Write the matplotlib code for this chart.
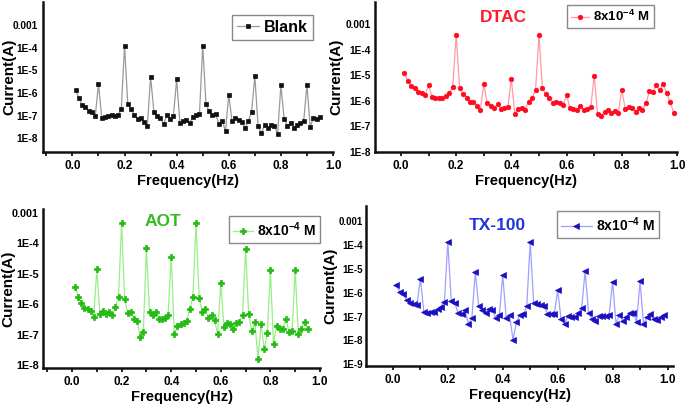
import numpy as np
import matplotlib
matplotlib.use("Agg")
import matplotlib.pyplot as plt
import matplotlib.transforms as mtransforms
from matplotlib.ticker import FixedLocator, MultipleLocator

plt.rcParams['font.family'] = ['Liberation Sans', 'DejaVu Sans']
plt.rcParams['font.weight'] = 'bold'
plt.rcParams['mathtext.fontset'] = 'custom'
plt.rcParams['mathtext.rm'] = 'Liberation Sans:bold'
plt.rcParams['mathtext.bf'] = 'Liberation Sans:bold'
plt.rcParams['mathtext.it'] = 'Liberation Sans:bold'

# frequency step of the spectra (Hz)
STEP = 0.0125

# log10(current / A)
blank_log = [-5.88, -6.24, -6.54, -6.61, -6.78, -6.82, -7.01, -5.60, -7.09, -7.06,
             -7.00, -6.97, -7.03, -6.98, -6.70, -3.91, -6.51, -6.73, -6.97, -7.14,
             -7.09, -7.28, -7.45, -5.29, -6.82, -7.03, -7.11, -7.37, -6.98, -7.17,
             -7.01, -5.40, -7.31, -7.25, -7.20, -7.32, -7.06, -6.98, -6.94, -3.91,
             -6.51, -6.81, -6.98, -6.94, -7.38, -7.22, -7.70, -6.07, -7.26, -7.09,
             -7.20, -7.29, -7.56, -7.23, -6.83, -5.26, -7.47, -7.79, -7.41, -7.54,
             -7.42, -7.45, -7.81, -5.67, -7.14, -7.44, -7.32, -7.53, -7.40, -7.32,
             -7.25, -5.64, -7.50, -7.09, -7.13, -7.07]

dtac_log = [-4.91, -5.24, -5.43, -5.49, -5.64, -5.68, -5.78, -5.40, -5.84, -5.90,
            -5.89, -5.89, -5.82, -5.68, -5.47, -3.42, -5.49, -5.73, -5.89, -6.06,
            -6.06, -6.21, -6.36, -5.34, -6.10, -6.21, -6.28, -6.14, -6.32, -6.28,
            -6.23, -5.15, -6.50, -6.32, -6.28, -6.34, -6.03, -5.89, -5.57, -3.44,
            -5.51, -5.74, -5.90, -6.07, -6.05, -6.10, -6.15, -5.77, -6.30, -6.31,
            -6.35, -6.19, -6.36, -6.32, -6.26, -5.02, -6.52, -6.61, -6.43, -6.36,
            -6.46, -6.39, -6.46, -5.57, -6.32, -6.26, -6.30, -6.42, -6.30, -6.34,
            -6.10, -5.63, -5.66, -5.40, -5.57, -5.34, -5.70, -6.03, -6.46]

aot_log = [-5.43, -5.75, -5.96, -6.11, -6.16, -6.22, -6.41, -4.86, -6.33, -6.21,
           -6.31, -6.25, -6.36, -6.08, -5.75, -3.33, -5.82, -6.30, -6.27, -6.47,
           -6.55, -7.06, -6.91, -4.17, -6.25, -6.34, -6.25, -6.49, -6.49, -6.44,
           -6.36, -4.44, -6.97, -6.73, -6.65, -6.60, -6.54, -6.17, -5.75, -3.33,
           -5.78, -6.25, -6.17, -6.44, -6.36, -6.53, -6.98, -5.29, -6.74, -6.60,
           -6.66, -6.82, -6.60, -6.58, -6.36, -4.18, -6.33, -6.89, -6.58, -7.78,
           -6.66, -7.48, -6.95, -4.89, -7.29, -6.71, -6.80, -6.80, -6.47, -6.91,
           -6.88, -4.89, -6.98, -6.82, -6.58, -6.82]

tx_log = [-5.66, -5.97, -6.04, -6.32, -6.44, -6.46, -6.53, -5.41, -6.79, -6.86,
          -6.81, -6.79, -6.70, -6.58, -6.38, -3.88, -6.35, -6.42, -6.84, -6.91,
          -6.74, -7.30, -7.07, -5.13, -6.56, -6.72, -6.84, -6.67, -6.72, -7.07,
          -6.95, -5.27, -7.06, -6.95, -7.98, -7.21, -6.93, -6.91, -6.56, -3.88,
          -6.42, -6.49, -6.53, -6.57, -6.88, -6.91, -6.91, -5.90, -7.11, -7.32,
          -6.97, -7.00, -7.02, -6.86, -6.63, -5.09, -6.84, -7.09, -7.18, -6.97,
          -6.97, -6.97, -6.93, -5.54, -7.30, -6.93, -7.18, -7.00, -6.84, -6.84,
          -7.23, -5.51, -7.30, -7.03, -6.91, -7.10, -7.15, -7.02, -6.92]

labels = ["Blank", "8x10$^{-4}$ M", "8x10$^{-4}$ M", "8x10$^{-4}$ M"]
titles = ["", "DTAC", "AOT", "TX-100"]
xticks = [0.0, 0.2, 0.4, 0.6, 0.8, 1.0]
yvals_a = [1e-3, 1e-4, 1e-5, 1e-6, 1e-7, 1e-8]
yvals_b = [1e-3, 1e-4, 1e-5, 1e-6, 1e-7, 1e-8, 1e-9]
ylab_a = ["0.001", "1E-4", "1E-5", "1E-6", "1E-7", "1E-8"]
ylab_b = ["0.001", "1E-4", "1E-5", "1E-6", "1E-7", "1E-8", "1E-9"]

W, H = 685, 412
fig = plt.figure(figsize=(W / 100, H / 100), dpi=100)

def px_axes(l, r, t, b):
    return fig.add_axes([l / W, (H - b) / H, (r - l) / W, (b - t) / H])

panels = [
    dict(box=(43, 333, 2, 152), xlim=(-0.113, 1.0), ylim=(10**-8.61, 10**-1.98),
         data=blank_log, mk='s', ms=2.8, mc='#111111', lc='#9a9a9a',
         yv=yvals_a, yl=ylab_a, ytfs=7.3, ypad=4, ylab_x=9, leg=(232, 15), lfs=11.5,
         hl=1.4, title=None),
    dict(box=(375, 677, 2, 152), xlim=(-0.094, 1.0), ylim=(1e-8, 10**-2.14),
         data=dtac_log, mk='o', ms=3.3, mc='#ff0a1e', lc='#ff9aa8',
         yv=yvals_a, yl=ylab_a, ytfs=7.3, ypad=3, ylab_x=336, leg=(567, 5), lfs=9.5,
         hl=1.4, title=((503, 17), '#ff1a2a')),
    dict(box=(43, 320, 209, 368), xlim=(-0.117, 1.0), ylim=(10**-8.09, 10**-2.88),
         data=aot_log, mk='P', ms=3.8, mc='#22bb11', lc='#99ee88',
         yv=yvals_a, yl=ylab_a, ytfs=7.8, ypad=3, ylab_x=8, leg=(229, 216), lfs=10,
         hl=1.4, title=((163, 221), '#33bb22')),
    dict(box=(366, 673, 206, 366), xlim=(-0.098, 1.02), ylim=(10**-9.07, 10**-2.37),
         data=tx_log, mk='<', ms=4.0, mc='#1a10c0', lc='#a0a0ff',
         yv=yvals_b, yl=ylab_b, ytfs=7.0, ypad=2, ylab_x=330, leg=(557, 211), lfs=10,
         hl=2.2, title=((497, 226), '#2233dd')),
]

for i, p in enumerate(panels):
    l, r, t, b = p['box']
    ax = px_axes(l, r, t, b)
    vals = np.array(p['data'])
    freq = STEP * np.arange(1, len(vals) + 1)
    ax.plot(freq, 10 ** vals, color=p['lc'], lw=0.9, marker=p['mk'], ms=p['ms'],
            mfc=p['mc'], mec=p['mc'], mew=0.5, label=labels[i])
    ax.set_yscale('log')
    ax.set_xlim(*p['xlim'])
    ax.set_ylim(*p['ylim'])
    ax.yaxis.set_major_locator(FixedLocator(p['yv']))
    ax.yaxis.set_minor_locator(FixedLocator([]))
    ax.set_yticklabels(p['yl'], fontsize=p['ytfs'], fontweight='bold')
    ax.set_xticks(xticks)
    ax.set_xticklabels([f"{v:.1f}" for v in xticks], fontsize=8.5, fontweight='bold')
    ax.xaxis.set_minor_locator(MultipleLocator(0.1))
    for s in ['top', 'right']:
        ax.spines[s].set_visible(False)
    for s in ['left', 'bottom']:
        ax.spines[s].set_linewidth(1.8)
        ax.spines[s].set_color('#111111')
    ax.tick_params(axis='x', which='both', direction='out', length=3, width=1.2, pad=3)
    ax.tick_params(axis='y', which='both', length=0, pad=p['ypad'])
    ax.patch.set_alpha(0)
    ax.set_xlabel("Frequency(Hz)", fontsize=10.5, fontweight='bold', labelpad=1)
    ax.set_ylabel("Current(A)", fontsize=11, fontweight='bold', va='center')
    blend = mtransforms.blended_transform_factory(fig.transFigure, ax.transAxes)
    ax.yaxis.set_label_coords(p['ylab_x'] / W, 0.5, transform=blend)
    lx, ly = p['leg']
    ax.legend(loc='upper left', bbox_to_anchor=(lx / W, 1 - ly / H),
              bbox_transform=fig.transFigure, fontsize=p['lfs'], frameon=True,
              fancybox=False, edgecolor='#888888', framealpha=1,
              handlelength=p['hl'], handletextpad=0.3, borderpad=0.3,
              borderaxespad=0)
    if p['title'] is not None:
        (tx, ty), tc = p['title']
        fig.text(tx / W, 1 - ty / H, titles[i], color=tc, fontsize=12.5,
                 fontweight='bold', ha='center', va='center')

fig.savefig("out.png", dpi=100)
